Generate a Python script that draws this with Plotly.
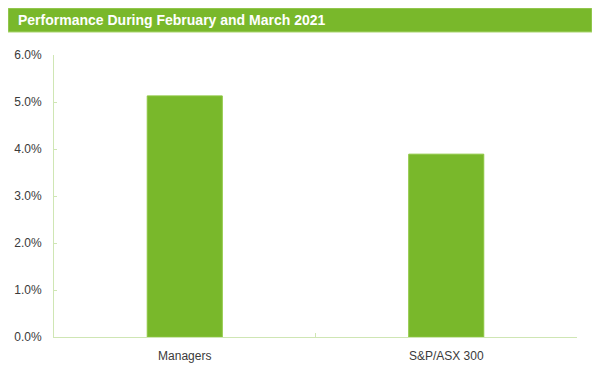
import plotly.graph_objects as go

categories = ["Managers", "S&P/ASX 300"]
values = [0.0513, 0.0389]
title_text = "Performance During February and March 2021"

BAR = "#79b82b"
AXIS = "#cfe6b4"
TXT = "#3a3a3a"

# The page body has an 8px default margin; lay out relative to the figure origin.
OFF = 8
W, H = 600, 377
L, R, T, B = 54 - OFF, 600 - (577 - OFF), 55 - OFF, 377 - (337 - OFF)
pw, ph = W - L - R, H - T - B

def px_x(x):
    return (x - OFF - L) / pw

def px_y(y):
    return (H - B - (y - OFF)) / ph

fig = go.Figure(go.Bar(
    x=categories, y=values,
    marker=dict(color=BAR, line=dict(color="#8cc63f", width=1)),
    hoverinfo="x+y",
))

fig.update_layout(
    width=W, height=H,
    margin=dict(l=L, r=R, t=T, b=B, autoexpand=False),
    paper_bgcolor="white", plot_bgcolor="white",
    bargap=0.713,
    showlegend=False,
    font=dict(family="Liberation Sans, Arial, sans-serif", size=12, color=TXT),
    shapes=[dict(
        type="rect", xref="paper", yref="paper",
        x0=px_x(8), x1=px_x(592), y0=px_y(32), y1=px_y(8),
        fillcolor=BAR, line=dict(color="#a9d46f", width=1), layer="below",
    )],
    annotations=[dict(
        text="<b>" + title_text + "</b>", xref="paper", yref="paper",
        x=px_x(16), y=px_y(20.5), xanchor="left", yanchor="middle",
        showarrow=False, font=dict(color="white", size=14,
                                   family="Liberation Sans, Arial, sans-serif"),
    )],
)

fig.update_xaxes(
    type="category", range=[-0.5, 1.5], automargin=False,
    showline=True, linecolor=AXIS, linewidth=1,
    ticks="inside", tickson="boundaries", ticklen=4, tickcolor=AXIS,
    showgrid=False, zeroline=False,
    ticklabelstandoff=8,
    tickfont=dict(size=12, color=TXT),
)
fig.update_yaxes(
    range=[0, 0.06], dtick=0.01, tickformat=".1%", automargin=False,
    showline=True, linecolor=AXIS, linewidth=1,
    ticks="inside", ticklen=3, tickcolor=AXIS,
    showgrid=False, zeroline=False,
    ticklabelstandoff=9,
    tickfont=dict(size=12, color=TXT),
)

fig.write_html("out.html")
